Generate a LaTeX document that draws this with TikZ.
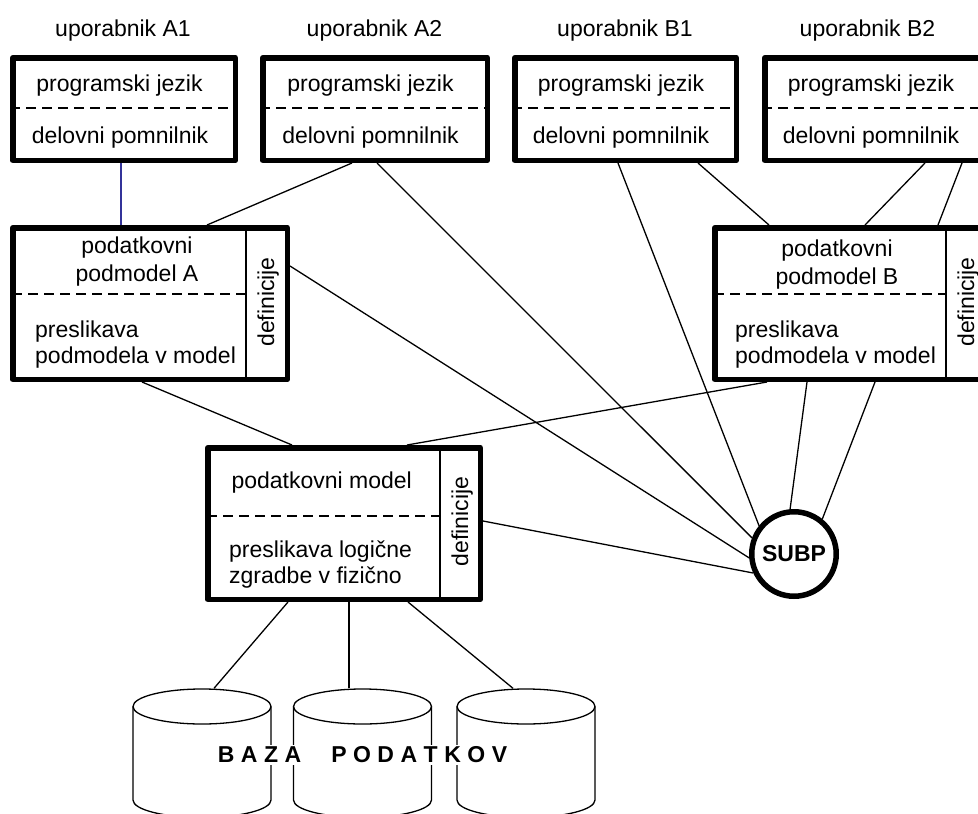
\documentclass[tikz,border=0pt]{standalone}
\usepackage{fontspec}
\setmainfont{Liberation Sans}
\definecolor{linkblue}{RGB}{51,51,153}
\newcommand\bazagap{\hspace{6.5pt}}
\newcommand\bazaword{\hspace{30pt}}
\begin{document}
\begin{tikzpicture}[x=1pt,y=-1pt,
  lbl/.style={font=\fontsize{23pt}{26pt}\selectfont, inner sep=0pt, anchor=base},
  lblw/.style={lbl, anchor=base west},
  defs/.style={lbl, rotate=90},
  userbox/.style={draw, line width=5.5pt, line join=round, inner sep=0pt, minimum height=102.5pt},
  modelbox/.style={draw, line width=5.5pt, line join=round, inner sep=0pt, minimum height=151.5pt},
  link/.style={line width=1.3pt},
  sepline/.style={line width=1.3pt, dash pattern=on 10pt off 6pt},
  dbline/.style={line width=1.3pt}]

\path[use as bounding box] (0,0) rectangle (978,814);
\clip (0,0) rectangle (978,814);

% user views
\node[userbox, minimum width=222.5pt] (a1) at (124,109) {};
\node[userbox, minimum width=224.5pt] (a2) at (375,109) {};
\node[userbox, minimum width=221.5pt] (b1) at (625.5,109) {};
\node[userbox, minimum width=221.5pt] (b2) at (875.5,109) {};
\foreach \b in {a1,a2,b1,b2}
  \draw[sepline] ([yshift=1pt]\b.west) -- ([yshift=1pt]\b.east);

\node[lbl] (ua1) at (123,36) {uporabnik A1};
\node[lbl] (ua2) at (374.5,36) {uporabnik A2};
\node[lbl] (ub1) at (625,36) {uporabnik B1};
\node[lbl] (ub2) at (867.5,36) {uporabnik B2};

\node[lbl] (pa1) at (119.5,91) {programski jezik};
\node[lbl] (pa2) at (370.5,91) {programski jezik};
\node[lbl] (pb1) at (621,91) {programski jezik};
\node[lbl] (pb2) at (871,91) {programski jezik};
\node[lbl] (da1) at (120,143) {delovni pomnilnik};
\node[lbl] (da2) at (370.5,143) {delovni pomnilnik};
\node[lbl] (db1t) at (621,143) {delovni pomnilnik};
\node[lbl] (db2t) at (871,143) {delovni pomnilnik};

% sub-models and the model
\node[modelbox, minimum width=274.5pt] (ma) at (150,303.5) {};
\node[modelbox, minimum width=272.5pt] (mb) at (851,303.5) {};
\node[modelbox, minimum width=272.5pt] (m) at (344,523.5) {};

\draw[link] (246,227.75) -- (246,379.25);
\draw[sepline] (12,294) -- (246,294);
\draw[link] (946,227.75) -- (946,379.25);
\draw[sepline] (714,294) -- (946,294);
\draw[link] (440,447.75) -- (440,599.25);
\draw[sepline] (207,516) -- (440,516);

\node[lbl] (ma1) at (137,253) {podatkovni};
\node[lbl] (ma2) at (137,281) {podmodel A};
\node[lblw] (ma3) at (35,337) {preslikava};
\node[lblw] (ma4) at (35,363) {podmodela v model};
\node[defs] (mad) at (274,302) {definicije};

\node[lbl] (mb1) at (837,256) {podatkovni};
\node[lbl] (mb2) at (837,284) {podmodel B};
\node[lblw] (mb3) at (735,337) {preslikava};
\node[lblw] (mb4) at (735,363) {podmodela v model};
\node[defs] (mbd) at (974,302) {definicije};

\node[lbl] (m1) at (321.7,488) {podatkovni model};
\node[lblw] (m2) at (229,557) {preslikava logične};
\node[lblw] (m3) at (229,583) {zgradbe v fizično};
\node[defs] (md) at (468,521.5) {definicije};

% database management system
\node[circle, draw, line width=5.5pt, minimum size=84.5pt, inner sep=0pt,
      font=\bfseries\fontsize{23pt}{26pt}\selectfont] (subp) at (794,554) {SUBP};

% database cylinders
\foreach \cx in {202,362.5,526} {
  \draw[dbline] (\cx,706.5) ellipse[x radius=69pt, y radius=17.5pt];
  \draw[dbline] (\cx-69,706.5) -- (\cx-69,800)
     arc[start angle=180, end angle=360, x radius=69pt, y radius=17.5pt]
     -- (\cx+69,706.5);
}
\coordinate (db1) at (214,688.3);
\coordinate (db2) at (349,688);
\coordinate (db3) at (513,688.3);

% connectors
\draw[link, linkblue] ([xshift=-3pt]a1.south) -- ([xshift=-29pt]ma.north);
\draw[link] ([xshift=-23pt]a2.south) -- ([xshift=57pt]ma.north);
\draw[link] ([xshift=2pt]a2.south) -- (subp.159);
\draw[link] ([yshift=37.5pt]ma.east) -- (subp.185);
\draw[link] ([xshift=-8pt]ma.south) -- ([xshift=-52pt]m.north);
\draw[link] ([xshift=-7.5pt]b1.south) -- (subp.141);
\draw[link] ([xshift=72.5pt]b1.south) -- ([xshift=-82pt]mb.north);
\draw[link] ([xshift=49.5pt]b2.south) -- ([xshift=14pt]mb.north);
\draw[link] ([xshift=86.5pt]b2.south) -- ([xshift=87pt]mb.north);
\draw[link] ([xshift=-84pt]mb.south) -- ([xshift=63pt]m.north);
\draw[link] ([xshift=-44pt]mb.south) -- (subp.95);
\draw[link] ([xshift=24pt]mb.south) -- (subp.51);
\draw[link] ([yshift=2.5pt]m.east) -- (subp.205.5);
\draw[link] ([xshift=-56pt]m.south) -- (db1);
\draw[link] ([xshift=5pt]m.south) -- (db2);
\draw[link] ([xshift=64pt]m.south) -- (db3);

% database caption
\node[fill=white, inner sep=1.5pt, font=\bfseries\fontsize{23pt}{26pt}\selectfont] (baza) at (362.5,755)
  {B\bazagap A\bazagap Z\bazagap A\bazaword P\bazagap O\bazagap D\bazagap A\bazagap T\bazagap K\bazagap O\bazagap V};
\end{tikzpicture}
\end{document}
